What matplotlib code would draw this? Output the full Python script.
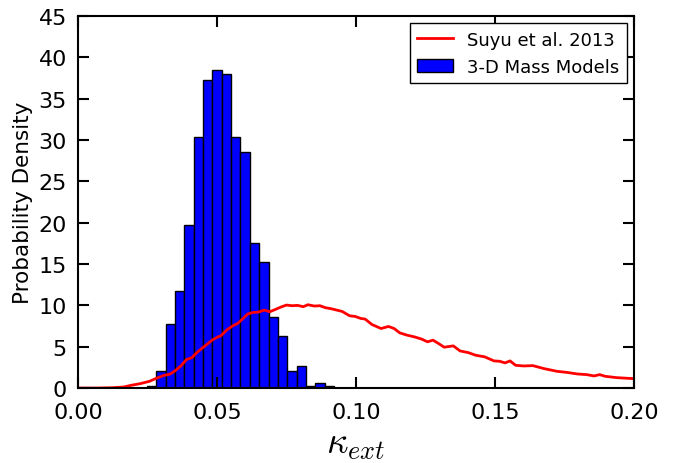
"""Histogram of kappa_ext from 3-D mass models vs the Suyu et al. 2013 distribution."""

import numpy as np
import matplotlib
matplotlib.use("Agg")
import matplotlib.pyplot as plt

plt.rcParams["mathtext.fontset"] = "cm"

# histogram of the 3-D mass models (probability density per bin)
bin_start = 0.0248
bin_width = 0.003365
hist_heights = [0.3, 2.0, 7.75, 11.7, 19.7, 30.4, 37.3, 38.5, 38.0, 30.4,
                28.6, 17.6, 15.2, 8.6, 6.25, 2.0, 2.66, 0.3, 0.6, 0.3]

# Suyu et al. 2013 curve
suyu_kappa = [0.0, 0.0071, 0.0124, 0.0164, 0.019, 0.0224, 0.0257, 0.0284, 0.031, 0.033,
              0.035, 0.037, 0.039, 0.041, 0.043, 0.0457, 0.0484, 0.0504, 0.0513, 0.0537,
              0.0557, 0.0574, 0.0594, 0.061, 0.063, 0.065, 0.067, 0.069, 0.071, 0.073,
              0.075, 0.077, 0.079, 0.081, 0.0827, 0.085, 0.087, 0.089, 0.091, 0.095,
              0.0977, 0.0997, 0.1017, 0.1033, 0.1057, 0.109, 0.1117, 0.1137, 0.1157, 0.1183,
              0.121, 0.1237, 0.1257, 0.1277, 0.1297, 0.1317, 0.135, 0.1374, 0.1403, 0.143,
              0.1463, 0.1496, 0.1516, 0.1536, 0.1554, 0.1574, 0.1603, 0.1636, 0.1676, 0.1723,
              0.1756, 0.1796, 0.183, 0.1856, 0.1876, 0.1896, 0.1936, 0.2]
suyu_pdf = [0.0, 0.0, 0.04, 0.12, 0.32, 0.53, 0.81, 1.21, 1.54, 1.66,
            2.1, 2.67, 3.44, 3.68, 4.37, 5.1, 5.83, 6.19, 6.3, 7.08,
            7.53, 7.81, 8.42, 8.95, 9.15, 9.19, 9.43, 9.23, 9.51, 9.8,
            10.04, 9.96, 10.0, 9.84, 10.08, 9.92, 9.96, 9.72, 9.6, 9.27,
            8.74, 8.66, 8.42, 8.34, 7.69, 7.2, 7.45, 7.2, 6.68, 6.4,
            6.19, 5.91, 5.59, 5.79, 5.38, 4.94, 5.1, 4.49, 4.29, 3.97,
            3.77, 3.28, 3.24, 3.04, 3.28, 2.75, 2.67, 2.71, 2.35, 2.02,
            1.9, 1.7, 1.62, 1.46, 1.62, 1.42, 1.26, 1.13]

edges = bin_start + bin_width * np.arange(len(hist_heights))

fig = plt.figure(figsize=(6.84, 4.64), dpi=100)
ax = fig.add_axes([0.114, 0.1616, 0.813, 0.8014])

ax.plot(suyu_kappa, suyu_pdf, color="red", linewidth=2, label="Suyu et al. 2013")
ax.bar(edges, hist_heights, width=bin_width, align="edge", color="blue",
       edgecolor="black", linewidth=1.0, label="3-D Mass Models")

ax.set_xlim(0, 0.2)
ax.set_ylim(0, 45)
ax.set_xticks([0.0, 0.05, 0.10, 0.15, 0.20])
ax.set_xticklabels(["0.00", "0.05", "0.10", "0.15", "0.20"])
ax.set_yticks(np.arange(0, 46, 5))
ax.tick_params(direction="in", top=True, right=True, length=8, width=1.5,
               labelsize=16)
ax.tick_params(axis="x", pad=10)
ax.tick_params(axis="y", pad=8)
for s in ax.spines.values():
    s.set_linewidth(1.5)

ax.set_xlabel(r"$\kappa_{ext}$", fontsize=27, labelpad=2)
ax.set_ylabel("Probability Density", fontsize=15.5)

leg = ax.legend(loc="upper right", fontsize=13, fancybox=False, framealpha=1,
                edgecolor="black", handlelength=2.0, borderaxespad=0.4)
leg.get_frame().set_linewidth(1.0)

fig.savefig("out.png", dpi=100)
